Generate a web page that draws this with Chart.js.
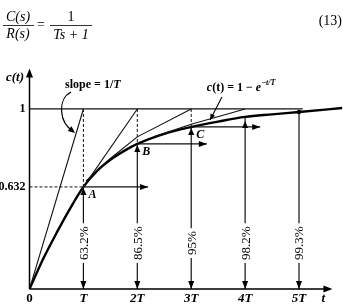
<!DOCTYPE html>
<html>
<head>
<meta charset="utf-8">
<script src="https://cdn.jsdelivr.net/npm/chart.js@4"></script>
<style>
  html, body { margin: 0; padding: 0; background: #fff; }
</style>
</head>
<body>
<canvas id="stepChart" width="343" height="308"></canvas>
<script>
// step response (t in units of T)
var curveT = [0, 0.25, 0.5, 0.75, 1.0, 1.25, 1.5, 1.75, 2.0, 2.5, 3.0, 3.5, 4.0, 4.5, 5.0, 5.8];
var curveC = [0, 0.165, 0.31, 0.445, 0.567, 0.655, 0.718, 0.766, 0.806, 0.862, 0.9, 0.93, 0.956, 0.97, 0.983, 1.005];

// marked points at T, 2T ... 5T
var markT = [1, 2, 3, 4, 5];
var markC = [0.567, 0.806, 0.9, 0.956, 0.983];
var markNames = ['A', 'B', 'C'];
var percentLabels = ['63.2%', '86.5%', '95%', '98.2%', '99.3%'];
var arrowEndT = [2.2, 3.29, 4.28];

// tangent lines
var tangent0T = [0, 1],            tangent0C = [0, 1];
var tangentAT = [1, 2],            tangentAC = [0.567, 1];
var tangentBT = [1.05, 1.5, 2, 3], tangentBC = [0.6, 0.725, 0.845, 1];
var tangentCT = [2.3, 3, 4],       tangentCC = [0.845, 0.915, 1];
var unitLineT = [0, 5.07],         unitLineC = [1, 1];

// tick labels
var xTickValues = [0, 1, 2, 3, 4, 5, 5.45];
var xTickLabels = ['0', 'T', '2T', '3T', '4T', '5T', 't'];
var yTickValues = [0.567, 1];
var yTickLabels = ['0.632', '1'];

var SERIF = '"Liberation Serif", "DejaVu Serif", serif';

function pts(ts, cs) {
    return ts.map(function (t, i) { return {x: t, y: cs[i]}; });
}

var dashed = [{x: 0, y: markC[0]}, {x: markT[0], y: markC[0]}, {x: 0.5, y: null}];
var verticals = [];
var hArrows = [];
for (var i = 0; i < markT.length; i++) {
    if (i < 3) {
        dashed.push({x: markT[i], y: 1}, {x: markT[i], y: markC[i]}, {x: markT[i] + 0.1, y: null});
        hArrows.push({x: markT[i], y: markC[i]}, {x: arrowEndT[i], y: markC[i]}, {x: arrowEndT[i] + 0.1, y: null});
    }
    verticals.push({x: markT[i], y: markC[i]}, {x: markT[i], y: 0}, {x: markT[i] + 0.1, y: null});
}

function thin(data, w) {
    return {data: data, borderColor: '#111', borderWidth: w || 1.1, pointRadius: 0, fill: false, tension: 0};
}

function head(ctx, x, y, dx, dy, len, half) {
    var n = Math.sqrt(dx * dx + dy * dy); dx /= n; dy /= n;
    ctx.beginPath();
    ctx.moveTo(x, y);
    ctx.lineTo(x - dx * len - dy * half, y - dy * len + dx * half);
    ctx.lineTo(x - dx * len + dy * half, y - dy * len - dx * half);
    ctx.closePath();
    ctx.fill();
}

var decorations = {
    id: 'decorations',
    afterDatasetsDraw: function (chart) {
        var ctx = chart.ctx, xs = chart.scales.x, ys = chart.scales.y;
        var X = function (v) { return xs.getPixelForValue(v); };
        var Y = function (v) { return ys.getPixelForValue(v); };
        ctx.save();
        ctx.fillStyle = '#000';
        ctx.strokeStyle = '#000';

        // axes with arrows
        ctx.lineWidth = 1.5;
        ctx.beginPath();
        ctx.moveTo(X(0), Y(0)); ctx.lineTo(X(5.55), Y(0));
        ctx.moveTo(X(0), Y(0)); ctx.lineTo(X(0), Y(1.19));
        ctx.stroke();
        head(ctx, X(5.62), Y(0), 1, 0, 9, 3.5);
        head(ctx, X(0), Y(1.225), 0, -1, 9, 3.5);

        // arrowheads on the marker lines
        for (var i = 0; i < markT.length; i++) {
            head(ctx, X(markT[i]), Y(0), 0, 1, 8, 3);
            if (i < 4) head(ctx, X(markT[i]), Y(markC[i]) + (i == 3 ? 4 : 1), 0, -1, 7, 3);
            if (i < 3) head(ctx, X(arrowEndT[i]), Y(markC[i]), 1, 0, 8, 3);
        }
        ctx.beginPath();
        ctx.arc(X(markT[4]), Y(markC[4]), 2.2, 0, Math.PI * 2);
        ctx.fill();

        // point names
        ctx.font = 'italic bold 12px ' + SERIF;
        ctx.textAlign = 'left';
        ctx.textBaseline = 'middle';
        for (var j = 0; j < markNames.length; j++) {
            ctx.fillText(markNames[j], X(markT[j]) + 5, Y(markC[j]) + 8);
        }

        // percentages along the verticals
        ctx.font = '13px ' + SERIF;
        ctx.textAlign = 'center';
        for (var k = 0; k < percentLabels.length; k++) {
            var w = ctx.measureText(percentLabels[k]).width;
            ctx.save();
            ctx.translate(X(markT[k]), Y(0.255));
            ctx.rotate(-Math.PI / 2);
            ctx.fillStyle = '#fff';
            ctx.fillRect(-w / 2 - 3, -6, w + 6, 12);
            ctx.fillStyle = '#000';
            ctx.fillText(percentLabels[k], 0, 1);
            ctx.restore();
        }

        // y axis name
        ctx.font = 'italic bold 13px ' + SERIF;
        ctx.textAlign = 'center';
        ctx.fillText('c(t)', X(-0.27), Y(1.172));

        // slope annotation
        ctx.textAlign = 'left';
        ctx.font = 'bold 12px ' + SERIF;
        var sx = X(0.66), sy = Y(1.133);
        ctx.fillText('slope = 1/', sx, sy);
        var sw = ctx.measureText('slope = 1/').width;
        ctx.font = 'italic bold 12px ' + SERIF;
        ctx.fillText('T', sx + sw, sy);
        var ex = X(0.845), ey = Y(0.867);
        ctx.lineWidth = 1.2;
        ctx.beginPath();
        ctx.moveTo(sx + 6, sy + 7);
        ctx.bezierCurveTo(sx - 8, sy + 14, sx - 6, ey - 10, ex - 2, ey - 2);
        ctx.stroke();
        head(ctx, ex, ey, 1, 0.8, 7, 3);

        // formula annotation
        var fx = X(3.29), fy = Y(1.117);
        ctx.font = 'italic bold 12px ' + SERIF;
        ctx.fillText('c', fx, fy);
        var cx = fx + ctx.measureText('c').width;
        ctx.font = 'bold 12px ' + SERIF;
        ctx.fillText('(t) = 1 \u2212 ', cx, fy);
        cx += ctx.measureText('(t) = 1 \u2212 ').width;
        ctx.font = 'italic bold 12px ' + SERIF;
        ctx.fillText('e', cx, fy);
        cx += ctx.measureText('e').width;
        ctx.font = 'italic bold 8px ' + SERIF;
        ctx.fillText('\u2212t/T', cx, fy - 5);
        var px0 = X(3.57), py0 = Y(1.067), px1 = X(3.35), py1 = Y(0.939);
        ctx.lineWidth = 1.1;
        ctx.beginPath();
        ctx.moveTo(px0, py0); ctx.lineTo(px1, py1);
        ctx.stroke();
        head(ctx, px1, py1, px1 - px0, py1 - py0, 6, 2.5);

        ctx.restore();
    },
    beforeDraw: function (chart) {
        // transfer function above the plot
        var ctx = chart.ctx;
        ctx.save();
        ctx.fillStyle = '#000';
        ctx.strokeStyle = '#000';
        ctx.lineWidth = 0.8;
        ctx.textBaseline = 'alphabetic';
        ctx.textAlign = 'center';
        ctx.font = 'italic 14px ' + SERIF;
        ctx.fillText('C(s)', 18, 21);
        ctx.fillText('R(s)', 18, 38);
        ctx.fillText('Ts + 1', 71, 39);
        ctx.font = '14px ' + SERIF;
        ctx.fillText('=', 41, 29);
        ctx.fillText('1', 71, 21);
        ctx.textAlign = 'right';
        ctx.fillText('(13)', 342, 25);
        ctx.beginPath();
        ctx.moveTo(3, 25.5); ctx.lineTo(34, 25.5);
        ctx.moveTo(50, 25.5); ctx.lineTo(92, 25.5);
        ctx.stroke();
        ctx.restore();
    }
};

var chart = new Chart(document.getElementById('stepChart').getContext('2d'), {
    type: 'line',
    data: {
        datasets: [
            thin(pts(unitLineT, unitLineC), 1.3),
            thin(pts(tangent0T, tangent0C)),
            thin(pts(tangentAT, tangentAC)),
            thin(pts(tangentBT, tangentBC)),
            thin(pts(tangentCT, tangentCC)),
            Object.assign(thin(dashed, 1), {borderDash: [3, 2]}),
            thin(verticals, 1.2),
            thin(hArrows, 1.2),
            {
                data: pts(curveT, curveC),
                borderColor: '#000',
                borderWidth: 2.4,
                pointRadius: 0,
                fill: false,
                cubicInterpolationMode: 'monotone'
            }
        ]
    },
    options: {
        responsive: false,
        animation: false,
        layout: {padding: {top: 60, left: 0, right: 0, bottom: 0}},
        plugins: {legend: {display: false}, tooltip: {enabled: false}},
        scales: {
            x: {
                type: 'linear',
                min: 0,
                max: 5.816,
                afterBuildTicks: function (s) { s.ticks = xTickValues.map(function (v) { return {value: v}; }); },
                afterFit: function (s) { s.height = 19; },
                grid: {display: false, drawTicks: false},
                border: {display: false},
                ticks: {
                    autoSkip: false,
                    maxRotation: 0,
                    padding: 2,
                    color: '#000',
                    callback: function (v, i) { return xTickLabels[i]; },
                    font: function (c) {
                        var italic = c.index > 0;
                        return {family: SERIF, size: 13, weight: 'bold', style: italic ? 'italic' : 'normal'};
                    }
                }
            },
            y: {
                type: 'linear',
                min: 0,
                max: 1.272,
                afterBuildTicks: function (s) { s.ticks = yTickValues.map(function (v) { return {value: v}; }); },
                afterFit: function (s) { s.width = 29.5; },
                grid: {display: false, drawTicks: false},
                border: {display: false},
                ticks: {
                    autoSkip: false,
                    padding: 4,
                    color: '#000',
                    callback: function (v, i) { return yTickLabels[i]; },
                    font: {family: SERIF, size: 12, weight: 'bold'}
                }
            }
        }
    },
    plugins: [decorations]
});
</script>
</body>
</html>
